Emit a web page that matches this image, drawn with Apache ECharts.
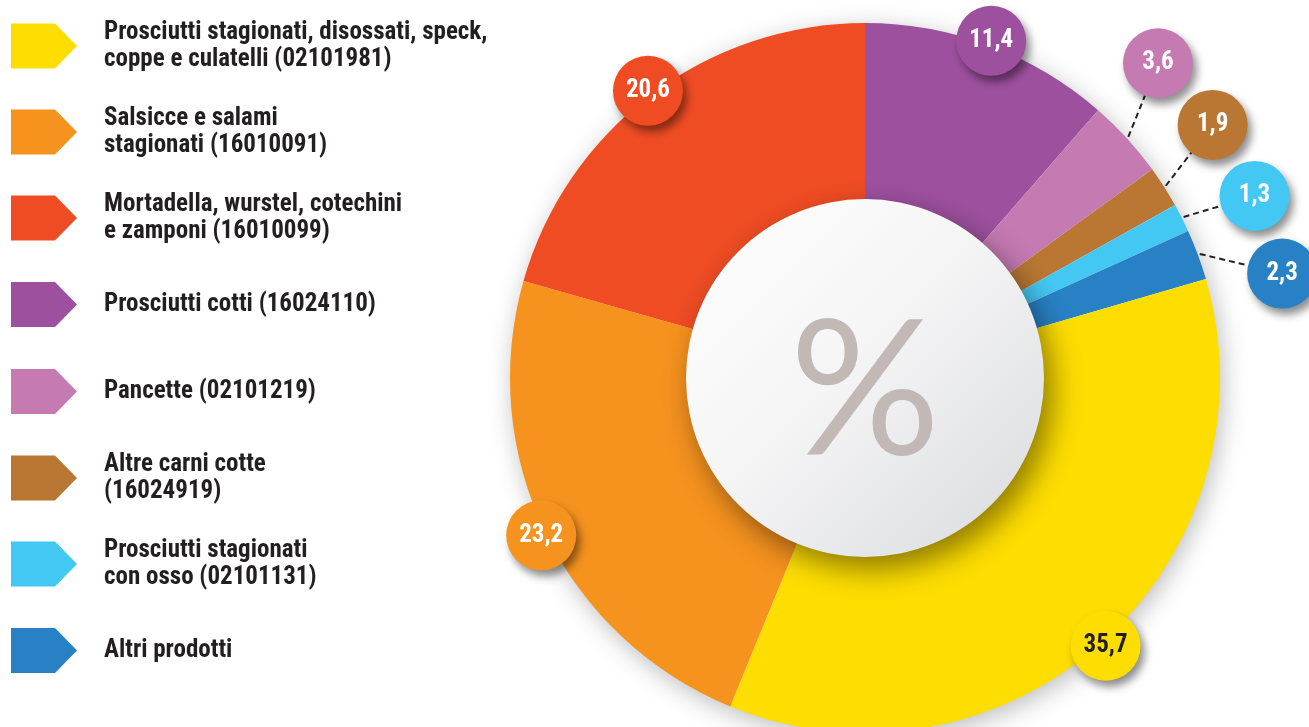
<!DOCTYPE html>
<html>
<head>
<meta charset="utf-8">
<script src="https://cdn.jsdelivr.net/npm/echarts@6/dist/echarts.min.js"></script>
<style>
html, body { margin: 0; padding: 0; background: #fff; }
#main { width: 1309px; height: 727px; }
</style>
</head>
<body>
<div id="main"></div>
<script>
// categorie, in ordine orario a partire da ore 12
var names = [
    'Prosciutti cotti (16024110)',
    'Pancette (02101219)',
    'Altre carni cotte\n(16024919)',
    'Prosciutti stagionati\ncon osso (02101131)',
    'Altri prodotti',
    'Prosciutti stagionati, disossati, speck,\ncoppe e culatelli (02101981)',
    'Salsicce e salami\nstagionati (16010091)',
    'Mortadella, wurstel, cotechini\ne zamponi (16010099)'
];
// quote percentuali
var values = [11.4, 3.6, 1.9, 1.3, 2.3, 35.7, 23.2, 20.6];
var colors = ['#9D509E', '#C57AB2', '#B97733', '#43C7F3', '#2881C5', '#FEDD00', '#F6921E', '#EF4C23'];
var textColors = ['#fff', '#fff', '#fff', '#fff', '#fff', '#231F20', '#fff', '#fff'];
// ordine della legenda
var legendOrder = [5, 6, 7, 0, 1, 2, 3, 4];

var narrow = "'Liberation Sans Narrow', 'Roboto Condensed', 'Arial Narrow', sans-serif";
var SMALL = 5;          // sotto questa quota l'etichetta va fuori con linea tratteggiata
var center = [865, 378];
var R = 355;            // raggio esterno corona
var R_LABEL = 430;      // raggio dei cerchietti esterni
var FAN = 11;           // gradi tra i cerchietti esterni
var BUBBLE = 70;

var chart = echarts.init(document.getElementById('main'), null, {renderer: 'canvas'});

function fmt(v) {
    return String(v).replace('.', ',');
}

// angoli (gradi, orari da ore 12) a metà di ogni fetta
var total = 0;
for (var t = 0; t < values.length; t++) total += values[t];
var midAngle = [];
var acc = 0;
for (var m = 0; m < values.length; m++) {
    midAngle.push((acc + values[m] / 2) / total * 360);
    acc += values[m];
}
// le etichette piccole vengono aperte a ventaglio attorno alla loro media
var smallIdx = [];
var meanSmall = 0;
for (var s = 0; s < values.length; s++) {
    if (values[s] < SMALL) { smallIdx.push(s); meanSmall += midAngle[s]; }
}
meanSmall /= smallIdx.length;
var fanAngle = {};
for (var f = 0; f < smallIdx.length; f++) {
    fanAngle[smallIdx[f]] = meanSmall + (f - (smallIdx.length - 1) / 2) * FAN;
}

function polar(angle, r) {
    var a = angle * Math.PI / 180;
    return [center[0] + r * Math.sin(a), center[1] - r * Math.cos(a)];
}

function bubble(i) {
    return {
        b: {
            width: BUBBLE,
            height: BUBBLE,
            lineHeight: BUBBLE,
            borderRadius: BUBBLE / 2,
            align: 'center',
            backgroundColor: colors[i],
            color: textColors[i],
            fontFamily: narrow,
            fontWeight: 'bold',
            fontSize: 25,
            shadowBlur: 8,
            shadowOffsetX: 4,
            shadowOffsetY: 6,
            shadowColor: 'rgba(0,0,0,0.45)'
        }
    };
}

var ringData = [];
var labelData = [];
for (var i = 0; i < values.length; i++) {
    var small = values[i] < SMALL;
    ringData.push({
        name: names[i],
        value: values[i],
        itemStyle: {color: colors[i]},
        label: {
            show: small,
            width: BUBBLE,
            formatter: '{b|' + fmt(values[i]) + '}',
            rich: bubble(i)
        },
        labelLine: {show: small}
    });
    labelData.push({
        name: names[i],
        value: values[i],
        itemStyle: {color: 'rgba(0,0,0,0)'},
        label: {
            show: !small,
            formatter: '{b|' + fmt(values[i]) + '}',
            rich: bubble(i)
        }
    });
}

var legendData = [];
for (var k = 0; k < legendOrder.length; k++) {
    var nm = names[legendOrder[k]];
    var oneLine = nm.indexOf('\n') < 0;
    legendData.push({
        name: nm,
        textStyle: {padding: oneLine ? [14, 0, 14, 22] : [0, 0, 0, 22]}
    });
}

option = {
    backgroundColor: '#fff',
    animation: false,
    legend: {
        orient: 'vertical',
        left: 11,
        top: 19,
        padding: 0,
        itemWidth: 66,
        itemHeight: 45,
        itemGap: 32,
        icon: 'path://M0 0 L44 0 L66 22.5 L44 45 L0 45 Z',
        selectedMode: false,
        data: legendData,
        textStyle: {
            fontFamily: narrow,
            fontWeight: 'bold',
            fontSize: 25,
            lineHeight: 27,
            color: '#231F20',
            padding: [0, 0, 0, 22]
        }
    },
    series: [
        {
            // ombra esterna della corona
            type: 'pie',
            z: 1,
            silent: true,
            center: center,
            radius: [0, R - 1],
            label: {show: false},
            labelLine: {show: false},
            itemStyle: {
                color: '#fff',
                shadowBlur: 26,
                shadowOffsetX: 3,
                shadowOffsetY: 6,
                shadowColor: 'rgba(0,0,0,0.28)'
            },
            data: [{value: 1, name: 'ombra'}]
        },
        {
            type: 'pie',
            z: 2,
            silent: true,
            center: center,
            radius: [150, R],
            startAngle: 90,
            clockwise: true,
            avoidLabelOverlap: false,
            label: {
                position: 'outside',
                distanceToLabelLine: 0
            },
            labelLine: {
                length: 40,
                length2: 0,
                lineStyle: {color: '#231F20', width: 2, type: [6, 4]}
            },
            labelLayout: function (p) {
                var i = p.dataIndex;
                if (!(values[i] < SMALL)) return;
                var st = polar(midAngle[i], R + 2);
                var bc = polar(fanAngle[i], R_LABEL);
                var dx = st[0] - bc[0];
                var dy = st[1] - bc[1];
                var d = Math.sqrt(dx * dx + dy * dy);
                var en = [bc[0] + dx / d * BUBBLE / 2, bc[1] + dy / d * BUBBLE / 2];
                return {
                    x: bc[0],
                    y: bc[1],
                    align: 'center',
                    verticalAlign: 'middle',
                    labelLinePoints: [st, [(st[0] + en[0]) / 2, (st[1] + en[1]) / 2], en]
                };
            },
            data: ringData
        },
        {
            // cerchio centrale con il simbolo %
            type: 'pie',
            z: 3,
            silent: true,
            center: center,
            radius: [0, 179],
            label: {
                show: true,
                position: 'center',
                formatter: '%',
                fontFamily: "Lato, 'Open Sans', sans-serif",
                fontWeight: 'normal',
                fontSize: 188,
                color: '#C2B9B6',
                offset: [0, 15]
            },
            labelLine: {show: false},
            itemStyle: {
                color: new echarts.graphic.LinearGradient(0, 0, 1, 1, [
                    {offset: 0, color: '#FFFFFF'},
                    {offset: 0.45, color: '#F5F5F6'},
                    {offset: 1, color: '#D9DADD'}
                ]),
                shadowBlur: 30,
                shadowOffsetX: 8,
                shadowOffsetY: 12,
                shadowColor: 'rgba(0,0,0,0.45)'
            },
            data: [{value: 1, name: 'centro'}]
        },
        {
            // etichette delle fette grandi sul bordo esterno
            type: 'pie',
            z: 4,
            silent: true,
            center: center,
            radius: [337, 377],
            startAngle: 90,
            clockwise: true,
            label: {position: 'inside'},
            labelLine: {show: false},
            data: labelData
        }
    ]
};

chart.setOption(option);
window.onresize = chart.resize;
</script>
</body>
</html>
